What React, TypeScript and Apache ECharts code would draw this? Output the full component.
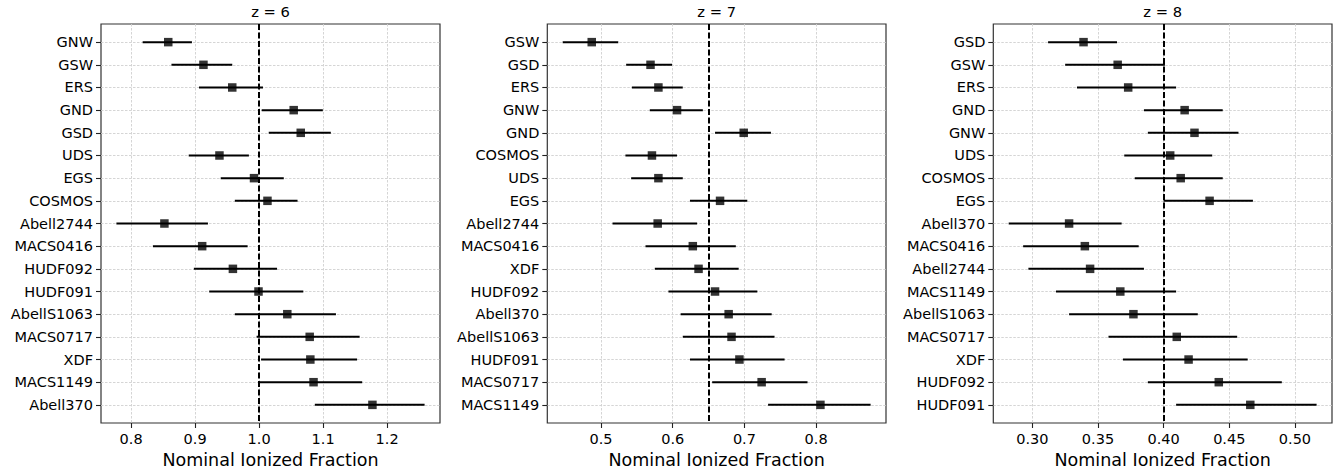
import React, { useEffect, useRef } from "react";
import * as echarts from "echarts";

// ---------- data ----------
const names6 = ["GNW", "GSW", "ERS", "GND", "GSD", "UDS", "EGS", "COSMOS", "Abell2744", "MACS0416", "HUDF092", "HUDF091", "AbellS1063", "MACS0717", "XDF", "MACS1149", "Abell370"];
const val6 = [0.858, 0.913, 0.958, 1.054, 1.065, 0.938, 0.992, 1.013, 0.852, 0.911, 0.959, 0.999, 1.044, 1.079, 1.080, 1.085, 1.177];
const lo6 = [0.818, 0.863, 0.906, 1.004, 1.015, 0.890, 0.940, 0.962, 0.777, 0.834, 0.898, 0.922, 0.962, 0.996, 1.003, 0.999, 1.087];
const hi6 = [0.895, 0.958, 1.006, 1.0995, 1.112, 0.984, 1.0385, 1.060, 0.920, 0.982, 1.028, 1.069, 1.120, 1.157, 1.153, 1.161, 1.2585];
const ref6 = 1.0;
const xTicks6 = ["0.8", "0.9", "1.0", "1.1", "1.2"];

const names7 = ["GSW", "GSD", "ERS", "GNW", "GND", "COSMOS", "UDS", "EGS", "Abell2744", "MACS0416", "XDF", "HUDF092", "Abell370", "AbellS1063", "HUDF091", "MACS0717", "MACS1149"];
const val7 = [0.487, 0.569, 0.580, 0.606, 0.699, 0.571, 0.580, 0.666, 0.579, 0.628, 0.636, 0.659, 0.678, 0.682, 0.693, 0.724, 0.806];
const lo7 = [0.4465, 0.535, 0.543, 0.568, 0.659, 0.534, 0.542, 0.624, 0.516, 0.562, 0.575, 0.594, 0.611, 0.614, 0.624, 0.655, 0.733];
const hi7 = [0.524, 0.599, 0.614, 0.642, 0.737, 0.606, 0.614, 0.704, 0.634, 0.688, 0.692, 0.718, 0.738, 0.742, 0.756, 0.788, 0.876];
const ref7 = 0.645;
const xTicks7 = ["0.5", "0.6", "0.7", "0.8"];

const names8 = ["GSD", "GSW", "ERS", "GND", "GNW", "UDS", "COSMOS", "EGS", "Abell370", "MACS0416", "Abell2744", "MACS1149", "AbellS1063", "MACS0717", "XDF", "HUDF092", "HUDF091"];
const val8 = [0.339, 0.365, 0.373, 0.416, 0.4235, 0.405, 0.413, 0.435, 0.328, 0.340, 0.344, 0.367, 0.377, 0.410, 0.419, 0.442, 0.466];
const lo8 = [0.312, 0.325, 0.334, 0.385, 0.388, 0.370, 0.378, 0.400, 0.282, 0.293, 0.297, 0.318, 0.328, 0.358, 0.369, 0.388, 0.4095];
const hi8 = [0.3645, 0.401, 0.4095, 0.445, 0.457, 0.437, 0.445, 0.468, 0.368, 0.381, 0.385, 0.4095, 0.426, 0.456, 0.464, 0.490, 0.5165];
const ref8 = 0.403;
const xTicks8 = ["0.30", "0.35", "0.40", "0.45", "0.50"];

const titles = ["z = 6", "z = 7", "z = 8"];
const xAxisName = "Nominal Ionized Fraction";

// ---------- layout ----------
const GRID_TOP = 24;
const GRID_H = 399;
const gridLefts = [101, 547.3, 993.3];
const gridWidths = [339, 338.7, 338.7];
const FONT = "DejaVu Sans";

const panels = [
  { title: titles[0], names: names6, val: val6, lo: lo6, hi: hi6, ref: ref6, ticks: xTicks6 },
  { title: titles[1], names: names7, val: val7, lo: lo7, hi: hi7, ref: ref7, ticks: xTicks7 },
  { title: titles[2], names: names8, val: val8, lo: lo8, hi: hi8, ref: ref8, ticks: xTicks8 },
];

const gridLine = { color: "#d0d0d0", type: [2.5, 1.5] as number[], width: 0.9 };

function buildOption() {
  const grid: any[] = [];
  const xAxis: any[] = [];
  const yAxis: any[] = [];
  const series: any[] = [];
  const graphic: any[] = [];

  panels.forEach((p, i) => {
    const n = p.names.length;
    const dmin = Math.min(...p.lo);
    const dmax = Math.max(...p.hi);
    const pad = (dmax - dmin) * 0.05;
    const tickNums = p.ticks.map(Number);
    const rowIdx = p.names.map((_, k) => k);

    grid.push({
      left: gridLefts[i],
      top: GRID_TOP,
      width: gridWidths[i],
      height: GRID_H,
      show: true,
      borderColor: "#333",
      borderWidth: 1.2,
      backgroundColor: "transparent",
      containLabel: false,
      outerBoundsMode: "none",
    });

    xAxis.push({
      type: "value",
      gridIndex: i,
      min: dmin - pad,
      max: dmax + pad,
      axisLine: { show: false, onZero: false },
      axisTick: { show: true, length: 5, lineStyle: { color: "#222", width: 1.1 }, customValues: tickNums },
      axisLabel: {
        customValues: tickNums,
        formatter: (v: number) => p.ticks.find((t) => Math.abs(Number(t) - v) < 1e-9) ?? "",
        fontSize: 14.5,
        fontFamily: FONT,
        color: "#000",
        margin: 8,
      },
      splitLine: { show: true, lineStyle: gridLine },
      name: xAxisName,
      nameLocation: "middle",
      nameGap: 26,
      nameTextStyle: { fontSize: 17.5, fontFamily: FONT, color: "#000" },
    });

    yAxis.push({
      type: "value",
      gridIndex: i,
      min: -0.8,
      max: n - 1 + 0.8,
      inverse: true,
      axisLine: { show: false, onZero: false },
      axisTick: { show: true, length: 5, lineStyle: { color: "#222", width: 1.1 }, customValues: rowIdx },
      axisLabel: {
        customValues: rowIdx,
        formatter: (v: number) => p.names[Math.round(v)] ?? "",
        fontSize: 14.5,
        fontFamily: FONT,
        color: "#000",
        margin: 8,
      },
      splitLine: { show: true, lineStyle: gridLine },
    });

    series.push({
      type: "custom",
      xAxisIndex: i,
      yAxisIndex: i,
      silent: true,
      z: 3,
      encode: { x: [1, 2], y: 0 },
      data: p.names.map((_, k) => [k, p.lo[k], p.hi[k]]),
      renderItem: (_params: any, api: any) => {
        const y = api.value(0);
        const a = api.coord([api.value(1), y]);
        const b = api.coord([api.value(2), y]);
        return {
          type: "line",
          shape: { x1: a[0], y1: a[1], x2: b[0], y2: b[1] },
          style: { stroke: "#000", lineWidth: 2 },
        };
      },
    });

    series.push({
      type: "scatter",
      xAxisIndex: i,
      yAxisIndex: i,
      silent: true,
      z: 4,
      symbol: "rect",
      symbolSize: 8.5,
      itemStyle: { color: "#000" },
      data: p.names.map((_, k) => [p.val[k], k]),
      markLine: {
        silent: true,
        symbol: "none",
        label: { show: false },
        lineStyle: { color: "#000", type: [6, 2.5], width: 2 },
        data: [{ xAxis: p.ref }],
      },
    });

    graphic.push({
      type: "text",
      x: gridLefts[i] + gridWidths[i] / 2,
      y: 11.5,
      style: {
        text: p.title,
        align: "center",
        verticalAlign: "middle",
        fontSize: 14.7,
        fontFamily: FONT,
        fill: "#000",
      },
    });
  });

  return {
    animation: false,
    backgroundColor: "#fff",
    grid,
    xAxis,
    yAxis,
    series,
    graphic,
  };
}

export default function App() {
  const ref = useRef<HTMLDivElement>(null);
  useEffect(() => {
    if (!ref.current) return;
    const chart = echarts.init(ref.current, undefined, { renderer: "svg" });
    chart.setOption(buildOption() as any);
    return () => chart.dispose();
  }, []);
  return (
    <div
      ref={ref}
      style={{ position: "absolute", left: 0, top: 0, width: 1340, height: 472 }}
    />
  );
}
